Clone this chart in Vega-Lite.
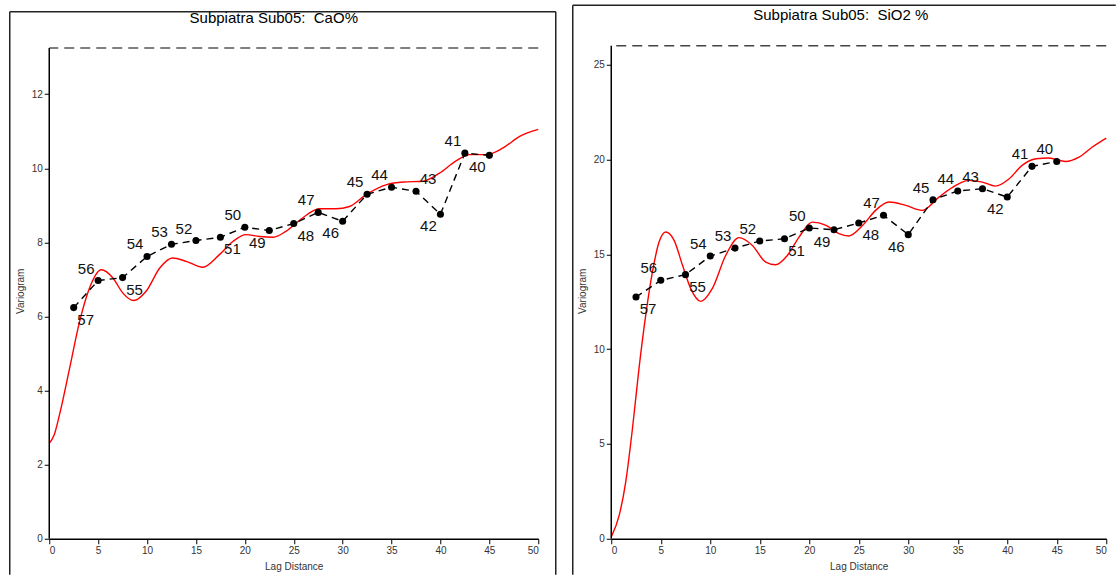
{
  "$schema": "https://vega.github.io/schema/vega-lite/v6.json",
  "autosize": {"type": "pad"},
  "padding": {"left": 8.25, "top": 3.75, "right": 0, "bottom": 0},
  "bounds": "flush",
  "spacing": 73,
  "datasets": {
    "cao_exp": [
      {"lag": 2.5, "gamma": 6.24, "pairs": 57, "side": "SE"},
      {"lag": 5, "gamma": 6.97, "pairs": 56, "side": "NW"},
      {"lag": 7.5, "gamma": 7.05, "pairs": 55, "side": "SE"},
      {"lag": 10, "gamma": 7.62, "pairs": 54, "side": "NW"},
      {"lag": 12.5, "gamma": 7.95, "pairs": 53, "side": "NW"},
      {"lag": 15, "gamma": 8.05, "pairs": 52, "side": "NW"},
      {"lag": 17.5, "gamma": 8.14, "pairs": 51, "side": "SE"},
      {"lag": 20, "gamma": 8.41, "pairs": 50, "side": "NW"},
      {"lag": 22.5, "gamma": 8.32, "pairs": 49, "side": "SW"},
      {"lag": 25, "gamma": 8.51, "pairs": 48, "side": "SE"},
      {"lag": 27.5, "gamma": 8.81, "pairs": 47, "side": "NW"},
      {"lag": 30, "gamma": 8.57, "pairs": 46, "side": "SW"},
      {"lag": 32.5, "gamma": 9.3, "pairs": 45, "side": "NW"},
      {"lag": 35, "gamma": 9.49, "pairs": 44, "side": "NW"},
      {"lag": 37.5, "gamma": 9.38, "pairs": 43, "side": "NE"},
      {"lag": 40, "gamma": 8.76, "pairs": 42, "side": "SW"},
      {"lag": 42.5, "gamma": 10.41, "pairs": 41, "side": "NW"},
      {"lag": 45, "gamma": 10.35, "pairs": 40, "side": "SW"}
    ],
    "cao_model": [
      {"lag": 0, "gamma": 2.58}, {"lag": 0.5, "gamma": 2.8}, {"lag": 1.05, "gamma": 3.35},
      {"lag": 2.08, "gamma": 4.6}, {"lag": 3.1, "gamma": 5.86}, {"lag": 4.12, "gamma": 6.77},
      {"lag": 5.32, "gamma": 7.26}, {"lag": 6.51, "gamma": 7.04}, {"lag": 7.53, "gamma": 6.63},
      {"lag": 8.62, "gamma": 6.43}, {"lag": 9.9, "gamma": 6.68}, {"lag": 11.3, "gamma": 7.31},
      {"lag": 12.6, "gamma": 7.58}, {"lag": 14.0, "gamma": 7.49}, {"lag": 15.7, "gamma": 7.33},
      {"lag": 17.4, "gamma": 7.67}, {"lag": 18.8, "gamma": 8.03}, {"lag": 20.1, "gamma": 8.21},
      {"lag": 21.5, "gamma": 8.16}, {"lag": 22.9, "gamma": 8.14}, {"lag": 24.2, "gamma": 8.3},
      {"lag": 25.9, "gamma": 8.66}, {"lag": 27.6, "gamma": 8.91}, {"lag": 29.3, "gamma": 8.91},
      {"lag": 30.7, "gamma": 8.97}, {"lag": 32.4, "gamma": 9.29}, {"lag": 34.5, "gamma": 9.56},
      {"lag": 36.2, "gamma": 9.63}, {"lag": 38.2, "gamma": 9.65}, {"lag": 39.9, "gamma": 9.87},
      {"lag": 41.6, "gamma": 10.2}, {"lag": 43.0, "gamma": 10.37}, {"lag": 44.7, "gamma": 10.37},
      {"lag": 46.4, "gamma": 10.55}, {"lag": 48.1, "gamma": 10.86}, {"lag": 50, "gamma": 11.05}
    ],
    "cao_sill": [{"sill": 13.25}],
    "sio2_exp": [
      {"lag": 2.5, "gamma": 12.75, "pairs": 57, "side": "SE"},
      {"lag": 5, "gamma": 13.63, "pairs": 56, "side": "NW"},
      {"lag": 7.5, "gamma": 13.93, "pairs": 55, "side": "SE"},
      {"lag": 10, "gamma": 14.91, "pairs": 54, "side": "NW"},
      {"lag": 12.5, "gamma": 15.33, "pairs": 53, "side": "NW"},
      {"lag": 15, "gamma": 15.7, "pairs": 52, "side": "NW"},
      {"lag": 17.5, "gamma": 15.82, "pairs": 51, "side": "SE"},
      {"lag": 20, "gamma": 16.39, "pairs": 50, "side": "NW"},
      {"lag": 22.5, "gamma": 16.3, "pairs": 49, "side": "SW"},
      {"lag": 25, "gamma": 16.65, "pairs": 48, "side": "SE"},
      {"lag": 27.5, "gamma": 17.06, "pairs": 47, "side": "NW"},
      {"lag": 30, "gamma": 16.04, "pairs": 46, "side": "SW"},
      {"lag": 32.5, "gamma": 17.88, "pairs": 45, "side": "NW"},
      {"lag": 35, "gamma": 18.34, "pairs": 44, "side": "NW"},
      {"lag": 37.5, "gamma": 18.46, "pairs": 43, "side": "NW"},
      {"lag": 40, "gamma": 18.02, "pairs": 42, "side": "SW"},
      {"lag": 42.5, "gamma": 19.64, "pairs": 41, "side": "NW"},
      {"lag": 45, "gamma": 19.9, "pairs": 40, "side": "NW"}
    ],
    "sio2_model": [
      {"lag": 0, "gamma": 0.1}, {"lag": 0.8, "gamma": 1.23}, {"lag": 1.46, "gamma": 2.99},
      {"lag": 2.14, "gamma": 5.8}, {"lag": 2.8, "gamma": 8.97}, {"lag": 3.48, "gamma": 11.78},
      {"lag": 4.16, "gamma": 14.07}, {"lag": 4.83, "gamma": 15.65}, {"lag": 5.5, "gamma": 16.18},
      {"lag": 6.35, "gamma": 15.74}, {"lag": 7.2, "gamma": 14.42}, {"lag": 8.03, "gamma": 13.19},
      {"lag": 9.04, "gamma": 12.52}, {"lag": 10.2, "gamma": 13.19}, {"lag": 11.57, "gamma": 14.95},
      {"lag": 12.9, "gamma": 15.88}, {"lag": 14.26, "gamma": 15.47}, {"lag": 15.6, "gamma": 14.59},
      {"lag": 16.6, "gamma": 14.45}, {"lag": 17.8, "gamma": 14.95}, {"lag": 18.97, "gamma": 15.91},
      {"lag": 20.3, "gamma": 16.7}, {"lag": 21.7, "gamma": 16.53}, {"lag": 23.0, "gamma": 16.09},
      {"lag": 24.0, "gamma": 15.97}, {"lag": 25.4, "gamma": 16.53}, {"lag": 26.7, "gamma": 17.32},
      {"lag": 28.06, "gamma": 17.76}, {"lag": 29.75, "gamma": 17.58}, {"lag": 31.4, "gamma": 17.32},
      {"lag": 33.1, "gamma": 18.02}, {"lag": 34.8, "gamma": 18.64}, {"lag": 36.1, "gamma": 18.9},
      {"lag": 37.5, "gamma": 18.81}, {"lag": 38.8, "gamma": 18.6}, {"lag": 40.2, "gamma": 18.99},
      {"lag": 41.5, "gamma": 19.69}, {"lag": 42.9, "gamma": 20.04}, {"lag": 44.2, "gamma": 20.08},
      {"lag": 45.9, "gamma": 19.9}, {"lag": 47.25, "gamma": 20.13}, {"lag": 48.6, "gamma": 20.66},
      {"lag": 50, "gamma": 21.13}
    ],
    "sio2_sill": [{"sill": 26.0}]
  },
  "hconcat": [
    {
      "width": 489,
      "height": 496,
      "title": {"text": "Subpiatra Sub05:\u00a0 CaO%", "dx": -20, "offset": -14.75},
      "layer": [
        {
          "data": {"name": "cao_model"},
          "mark": {"type": "line", "color": "#ff0000", "strokeWidth": 1.4, "interpolate": "monotone"},
          "encoding": {
            "x": {"field": "lag", "type": "quantitative",
                  "scale": {"domain": [0, 50], "nice": false, "zero": false},
                  "axis": {"title": "Lag Distance", "values": [0, 5, 10, 15, 20, 25, 30, 35, 40, 45, 50], "format": "d"}},
            "y": {"field": "gamma", "type": "quantitative",
                  "scale": {"domain": [0, 13.39], "nice": false, "zero": false},
                  "axis": {"title": "Variogram", "values": [0, 2, 4, 6, 8, 10, 12], "format": "d", "domain": false}}
          }
        },
        {
          "data": {"name": "cao_exp"},
          "mark": {"type": "line", "color": "#000", "strokeWidth": 1.4, "strokeDash": [7, 5]},
          "encoding": {"x": {"field": "lag", "type": "quantitative"}, "y": {"field": "gamma", "type": "quantitative"}}
        },
        {
          "data": {"name": "cao_exp"},
          "mark": {"type": "circle", "color": "#000", "size": 50, "opacity": 1},
          "encoding": {"x": {"field": "lag", "type": "quantitative"}, "y": {"field": "gamma", "type": "quantitative"}}
        },
        {
          "data": {"name": "cao_exp"},
          "transform": [{"filter": "datum.side === 'NW'"}],
          "mark": {"type": "text", "dx": -12, "dy": -12, "fontSize": 15, "color": "#111", "font": "Liberation Sans", "baseline": "middle"},
          "encoding": {"x": {"field": "lag", "type": "quantitative"}, "y": {"field": "gamma", "type": "quantitative"}, "text": {"field": "pairs", "type": "nominal"}}
        },
        {
          "data": {"name": "cao_exp"},
          "transform": [{"filter": "datum.side === 'NE'"}],
          "mark": {"type": "text", "dx": 12, "dy": -12, "fontSize": 15, "color": "#111", "font": "Liberation Sans", "baseline": "middle"},
          "encoding": {"x": {"field": "lag", "type": "quantitative"}, "y": {"field": "gamma", "type": "quantitative"}, "text": {"field": "pairs", "type": "nominal"}}
        },
        {
          "data": {"name": "cao_exp"},
          "transform": [{"filter": "datum.side === 'SE'"}],
          "mark": {"type": "text", "dx": 12, "dy": 12, "fontSize": 15, "color": "#111", "font": "Liberation Sans", "baseline": "middle"},
          "encoding": {"x": {"field": "lag", "type": "quantitative"}, "y": {"field": "gamma", "type": "quantitative"}, "text": {"field": "pairs", "type": "nominal"}}
        },
        {
          "data": {"name": "cao_exp"},
          "transform": [{"filter": "datum.side === 'SW'"}],
          "mark": {"type": "text", "dx": -12, "dy": 12, "fontSize": 15, "color": "#111", "font": "Liberation Sans", "baseline": "middle"},
          "encoding": {"x": {"field": "lag", "type": "quantitative"}, "y": {"field": "gamma", "type": "quantitative"}, "text": {"field": "pairs", "type": "nominal"}}
        },
        {
          "data": {"name": "cao_sill"},
          "mark": {"type": "rule", "color": "#555", "strokeWidth": 1.6, "strokeDash": [10, 6]},
          "encoding": {"y": {"field": "sill", "type": "quantitative"}}
        },
        {
          "data": {"name": "cao_sill"},
          "mark": {"type": "rule", "color": "#000", "strokeWidth": 1.5},
          "encoding": {"x": {"datum": 0, "type": "quantitative"}, "y": {"field": "sill", "type": "quantitative"}, "y2": {"datum": 0}}
        },
        {
          "data": {"values": [{"k": 1}]},
          "mark": {"type": "rule", "clip": false, "color": "#222", "strokeWidth": 1.5},
          "encoding": {"x": {"datum": -4.039, "type": "quantitative"}, "y": {"datum": -0.972, "type": "quantitative"}, "y2": {"datum": 14.227}}
        },
        {
          "data": {"values": [{"k": 1}]},
          "mark": {"type": "rule", "clip": false, "color": "#222", "strokeWidth": 1.5},
          "encoding": {"x": {"datum": 51.79, "type": "quantitative"}, "y": {"datum": -0.972, "type": "quantitative"}, "y2": {"datum": 14.227}}
        },
        {
          "data": {"values": [{"k": 1}]},
          "mark": {"type": "rule", "clip": false, "color": "#222", "strokeWidth": 1.5},
          "encoding": {"x": {"datum": -4.039, "type": "quantitative"}, "x2": {"datum": 51.79}, "y": {"datum": 14.227, "type": "quantitative"}}
        }
      ]
    },
    {
      "width": 495,
      "height": 496,
      "title": {"text": "Subpiatra Sub05:\u00a0 SiO2 %", "dx": -18, "offset": -18.25},
      "layer": [
        {
          "data": {"name": "sio2_model"},
          "mark": {"type": "line", "color": "#ff0000", "strokeWidth": 1.4, "interpolate": "monotone"},
          "encoding": {
            "x": {"field": "lag", "type": "quantitative",
                  "scale": {"domain": [0, 50], "nice": false, "zero": false},
                  "axis": {"title": "Lag Distance", "values": [0, 5, 10, 15, 20, 25, 30, 35, 40, 45, 50], "format": "d"}},
            "y": {"field": "gamma", "type": "quantitative",
                  "scale": {"domain": [0, 26.16], "nice": false, "zero": false},
                  "axis": {"title": "Variogram", "values": [0, 5, 10, 15, 20, 25], "format": "d", "domain": false}}
          }
        },
        {
          "data": {"name": "sio2_exp"},
          "mark": {"type": "line", "color": "#000", "strokeWidth": 1.4, "strokeDash": [7, 5]},
          "encoding": {"x": {"field": "lag", "type": "quantitative"}, "y": {"field": "gamma", "type": "quantitative"}}
        },
        {
          "data": {"name": "sio2_exp"},
          "mark": {"type": "circle", "color": "#000", "size": 50, "opacity": 1},
          "encoding": {"x": {"field": "lag", "type": "quantitative"}, "y": {"field": "gamma", "type": "quantitative"}}
        },
        {
          "data": {"name": "sio2_exp"},
          "transform": [{"filter": "datum.side === 'NW'"}],
          "mark": {"type": "text", "dx": -12, "dy": -12, "fontSize": 15, "color": "#111", "font": "Liberation Sans", "baseline": "middle"},
          "encoding": {"x": {"field": "lag", "type": "quantitative"}, "y": {"field": "gamma", "type": "quantitative"}, "text": {"field": "pairs", "type": "nominal"}}
        },
        {
          "data": {"name": "sio2_exp"},
          "transform": [{"filter": "datum.side === 'SE'"}],
          "mark": {"type": "text", "dx": 12, "dy": 12, "fontSize": 15, "color": "#111", "font": "Liberation Sans", "baseline": "middle"},
          "encoding": {"x": {"field": "lag", "type": "quantitative"}, "y": {"field": "gamma", "type": "quantitative"}, "text": {"field": "pairs", "type": "nominal"}}
        },
        {
          "data": {"name": "sio2_exp"},
          "transform": [{"filter": "datum.side === 'SW'"}],
          "mark": {"type": "text", "dx": -12, "dy": 12, "fontSize": 15, "color": "#111", "font": "Liberation Sans", "baseline": "middle"},
          "encoding": {"x": {"field": "lag", "type": "quantitative"}, "y": {"field": "gamma", "type": "quantitative"}, "text": {"field": "pairs", "type": "nominal"}}
        },
        {
          "data": {"name": "sio2_sill"},
          "mark": {"type": "rule", "color": "#444", "strokeWidth": 1.6, "strokeDash": [10, 6]},
          "encoding": {"y": {"field": "sill", "type": "quantitative"}}
        },
        {
          "data": {"name": "sio2_sill"},
          "mark": {"type": "rule", "color": "#000", "strokeWidth": 1.5},
          "encoding": {"x": {"datum": 0, "type": "quantitative"}, "y": {"field": "sill", "type": "quantitative"}, "y2": {"datum": 0}}
        },
        {
          "data": {"values": [{"k": 1}]},
          "mark": {"type": "rule", "clip": false, "color": "#222", "strokeWidth": 1.5},
          "encoding": {"x": {"datum": -3.889, "type": "quantitative"}, "y": {"datum": -1.899, "type": "quantitative"}, "y2": {"datum": 28.138}}
        },
        {
          "data": {"values": [{"k": 1}]},
          "mark": {"type": "rule", "clip": false, "color": "#222", "strokeWidth": 1.5},
          "encoding": {"x": {"datum": -3.889, "type": "quantitative"}, "x2": {"datum": 50.96}, "y": {"datum": 28.138, "type": "quantitative"}}
        }
      ]
    }
  ],
  "config": {
    "view": {"stroke": null},
    "font": "Liberation Sans",
    "axis": {
      "grid": false, "domainColor": "#000", "domainWidth": 1.5,
      "tickColor": "#000", "tickSize": 5, "tickWidth": 1,
      "labelFont": "Liberation Sans", "labelFontSize": 10, "labelColor": "#333", "labelPadding": 2,
      "titleFont": "Liberation Sans", "titleFontSize": 10, "titleFontWeight": "normal", "titleColor": "#333", "titlePadding": 6
    },
    "title": {"font": "Liberation Sans", "fontSize": 15, "fontWeight": "normal", "color": "#000", "frame": "group", "anchor": "middle", "baseline": "alphabetic"}
  }
}
